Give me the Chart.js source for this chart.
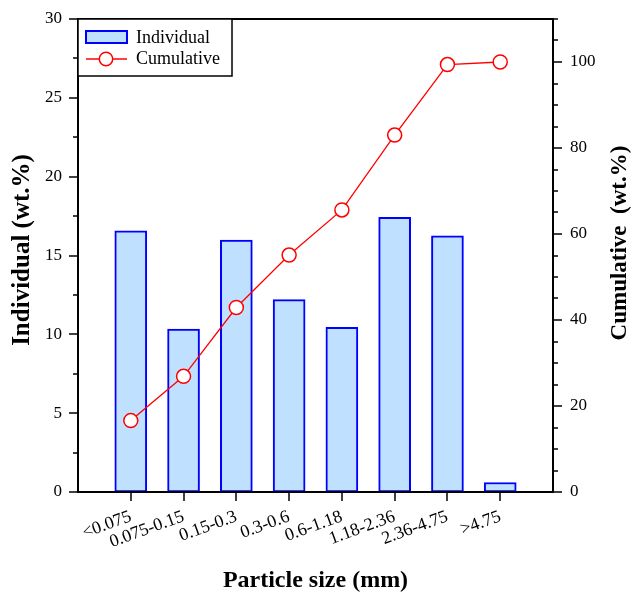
<!DOCTYPE html>
<html>
<head>
<meta charset="utf-8">
<script src="https://cdn.jsdelivr.net/npm/chart.js@4"></script>
<style>
  html, body { margin: 0; padding: 0; background: #fff; }
  #wrap { width: 633px; height: 592px; }
</style>
</head>
<body>
<div id="wrap"><canvas id="chart"></canvas></div>
<script>
const sizeLabels = ['<0.075', '0.075-0.15', '0.15-0.3', '0.3-0.6', '0.6-1.18', '1.18-2.36', '2.36-4.75', '>4.75'];
const individual = [16.57, 10.33, 15.98, 12.2, 10.45, 17.42, 16.25, 0.6];
const cumulative = [16.6, 26.9, 42.9, 55.1, 65.6, 83.0, 99.4, 100];

const SERIF = '"Liberation Serif", "Times New Roman", serif';
Chart.defaults.font.family = SERIF;
Chart.defaults.color = '#000';

// empty slots at both ends give the half-gap padding of the original axis
const xLabels = [''].concat(sizeLabels, ['']);
const barData = [null].concat(individual, [null]);
const lineData = [null].concat(cumulative, [null]);

// fixed box sizes so the plot area lands where the original has it
function fixBox(w, h) {
    return scale => {
        if (w !== null) scale.width = w;
        if (h !== null) scale.height = h;
        scale.paddingTop = 0;
        scale.paddingBottom = 0;
        scale.paddingLeft = 0;
        scale.paddingRight = 0;
    };
}

const framePlugin = {
    id: 'frame',
    afterDraw(chart) {
        const { ctx, chartArea: a, scales } = chart;
        ctx.save();
        ctx.strokeStyle = '#000';
        ctx.lineWidth = 2;
        ctx.strokeRect(a.left, a.top, a.right - a.left, a.bottom - a.top);

        ctx.lineWidth = 1.5;
        const tick = (x1, y1, x2, y2) => {
            ctx.beginPath();
            ctx.moveTo(x1, y1);
            ctx.lineTo(x2, y2);
            ctx.stroke();
        };
        for (let v = 0; v <= 30; v += 2.5) {
            const y = Math.round(scales.y.getPixelForValue(v));
            tick(a.left, y, a.left - (v % 5 === 0 ? 9 : 5), y);
        }
        for (let v = 0; v <= 110; v += 5) {
            const y = Math.round(scales.y1.getPixelForValue(v));
            tick(a.right, y, a.right + (v % 20 === 0 ? 9 : 5), y);
        }
        sizeLabels.forEach((_, i) => {
            const x = Math.round(scales.x.getPixelForValue(i + 1));
            tick(x, a.bottom, x, a.bottom + 9);
        });

        // axis titles
        ctx.fillStyle = '#000';
        ctx.textAlign = 'center';
        ctx.textBaseline = 'alphabetic';
        ctx.font = 'bold 24px ' + SERIF;
        ctx.fillText('Particle size (mm)', (a.left + a.right) / 2, 587);
        ctx.save();
        ctx.font = 'bold 25px ' + SERIF;
        ctx.translate(29, 250);
        ctx.rotate(-Math.PI / 2);
        ctx.fillText('Individual (wt.%)', 0, 0);
        ctx.restore();
        ctx.save();
        ctx.font = 'bold 23px ' + SERIF;
        ctx.translate(626, 243);
        ctx.rotate(-Math.PI / 2);
        ctx.fillText('Cumulative  (wt.%)', 0, 0);
        ctx.restore();

        // legend
        const lx = a.left, ly = a.top;
        ctx.fillStyle = '#fff';
        ctx.fillRect(lx, ly, 154, 57);
        ctx.lineWidth = 1.5;
        ctx.strokeRect(lx, ly, 154, 57);
        ctx.fillStyle = '#c0e0ff';
        ctx.fillRect(lx + 8, ly + 12, 41, 12);
        ctx.strokeStyle = '#0000ff';
        ctx.lineWidth = 2;
        ctx.strokeRect(lx + 8, ly + 12, 41, 12);
        ctx.strokeStyle = '#ff0000';
        ctx.lineWidth = 1.3;
        tick(lx + 8, ly + 40, lx + 49, ly + 40);
        ctx.beginPath();
        ctx.arc(lx + 28, ly + 40, 6.7, 0, Math.PI * 2);
        ctx.fillStyle = '#fff';
        ctx.fill();
        ctx.lineWidth = 1.5;
        ctx.stroke();
        ctx.fillStyle = '#000';
        ctx.font = '18px ' + SERIF;
        ctx.textAlign = 'left';
        ctx.fillText('Individual', lx + 58, ly + 24);
        ctx.fillText('Cumulative', lx + 58, ly + 45);
        ctx.restore();
    }
};

new Chart(document.getElementById('chart'), {
    type: 'bar',
    data: {
        labels: xLabels,
        datasets: [
            {
                type: 'line',
                label: 'Cumulative',
                data: lineData,
                yAxisID: 'y1',
                order: 0,
                borderColor: '#ff0000',
                borderWidth: 1.3,
                pointRadius: 7,
                pointBorderWidth: 1.5,
                pointBackgroundColor: '#ffffff',
                pointBorderColor: '#ff0000',
                tension: 0
            },
            {
                label: 'Individual',
                data: barData,
                yAxisID: 'y',
                order: 1,
                backgroundColor: '#c0e0ff',
                borderColor: '#0000ff',
                borderWidth: 2,
                borderSkipped: false,
                barThickness: 32
            }
        ]
    },
    options: {
        responsive: true,
        maintainAspectRatio: false,
        animation: false,
        layout: { padding: { top: 19, left: 0, right: 0, bottom: 0 } },
        plugins: {
            legend: { display: false },
            tooltip: { enabled: false }
        },
        scales: {
            x: {
                offset: false,
                grid: { display: false, drawTicks: false },
                border: { display: false },
                ticks: {
                    autoSkip: false,
                    minRotation: 20,
                    maxRotation: 20,
                    padding: 14,
                    font: { size: 18 }
                },
                afterFit: fixBox(null, 100)
            },
            y: {
                position: 'left',
                min: 0,
                max: 30,
                grid: { display: false, drawTicks: false },
                border: { display: false },
                ticks: { stepSize: 5, padding: 16, font: { size: 17 } },
                afterFit: fixBox(78, null)
            },
            y1: {
                position: 'right',
                min: 0,
                max: 110,
                grid: { display: false, drawTicks: false },
                border: { display: false },
                ticks: { stepSize: 20, padding: 17, font: { size: 17 } },
                afterBuildTicks(scale) {
                    scale.ticks = scale.ticks.filter(t => t.value <= 100);
                },
                afterFit: fixBox(80, null)
            }
        }
    },
    plugins: [framePlugin]
});
</script>
</body>
</html>
